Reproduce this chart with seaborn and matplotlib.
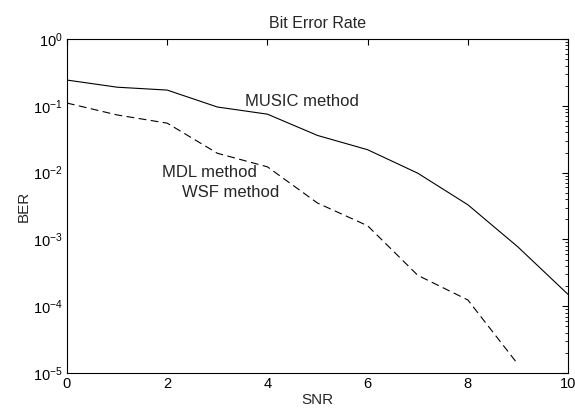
import numpy as np
import pandas as pd
import matplotlib
matplotlib.use("Agg")
import matplotlib.pyplot as plt
import seaborn as sns
from matplotlib.ticker import LogLocator, FixedLocator

snr = [0, 1, 2, 3, 4, 5, 6, 7, 8, 9, 10]
music_ber = [0.243, 0.19, 0.172, 0.096, 0.075, 0.036, 0.022, 0.0098, 0.0033, 7.7e-4, 1.5e-4]
snr_wsf = [0, 1, 2, 3, 4, 5, 6, 7, 8, 9]
wsf_ber = [0.11, 0.073, 0.055, 0.0195, 0.0122, 0.0035, 0.0016, 2.9e-4, 1.24e-4, 1.35e-5]

df_music = pd.DataFrame({"SNR": snr, "BER": music_ber})
df_wsf = pd.DataFrame({"SNR": snr_wsf, "BER": wsf_ber})

sns.set_style("white")
plt.rcParams['font.family'] = ['Liberation Sans', 'DejaVu Sans']
plt.rcParams['xtick.direction'] = 'in'
plt.rcParams['ytick.direction'] = 'in'

fig = plt.figure(figsize=(5.75, 4.09), dpi=100)
ax = fig.add_axes([0.1165, 0.088, 0.8715, 0.8166])

sns.lineplot(data=df_music, x="SNR", y="BER", ax=ax, color="black", linewidth=0.8)
sns.lineplot(data=df_wsf, x="SNR", y="BER", ax=ax, color="black", linewidth=0.8,
             linestyle=(0, (7, 4)))

ax.set_yscale("log")
ax.set_xlim(0, 10)
ax.set_ylim(1e-5, 1)
ax.set_xticks([0, 2, 4, 6, 8, 10])
ax.set_xticklabels(["0", "2", "4", "6", "8", "10"])
ax.yaxis.set_major_locator(LogLocator(base=10, numticks=10))
ax.yaxis.set_minor_locator(LogLocator(base=10, subs=np.arange(2, 10), numticks=20))
ax.tick_params(which='both', top=True, right=True, direction='in', labelsize=10.5, colors='black')
ax.tick_params(which='major', length=4, width=0.8, pad=3)
ax.tick_params(which='minor', length=2, width=0.6)
ax.xaxis.set_minor_locator(FixedLocator([]))
for s in ax.spines.values():
    s.set_color('black')
    s.set_linewidth(0.8)

ax.set_title("Bit Error Rate", fontsize=11.5, pad=8)
ax.set_xlabel("SNR", fontsize=11, labelpad=1)
ax.set_ylabel("BER", fontsize=11, labelpad=2)

ax.text(3.55, 0.118, "MUSIC method", fontsize=12, ha="left", va="center")
ax.text(1.9, 0.0102, "MDL method", fontsize=12, ha="left", va="center")
ax.text(2.3, 0.0051, "WSF method", fontsize=12, ha="left", va="center")

fig.savefig("out.png", dpi=100)
